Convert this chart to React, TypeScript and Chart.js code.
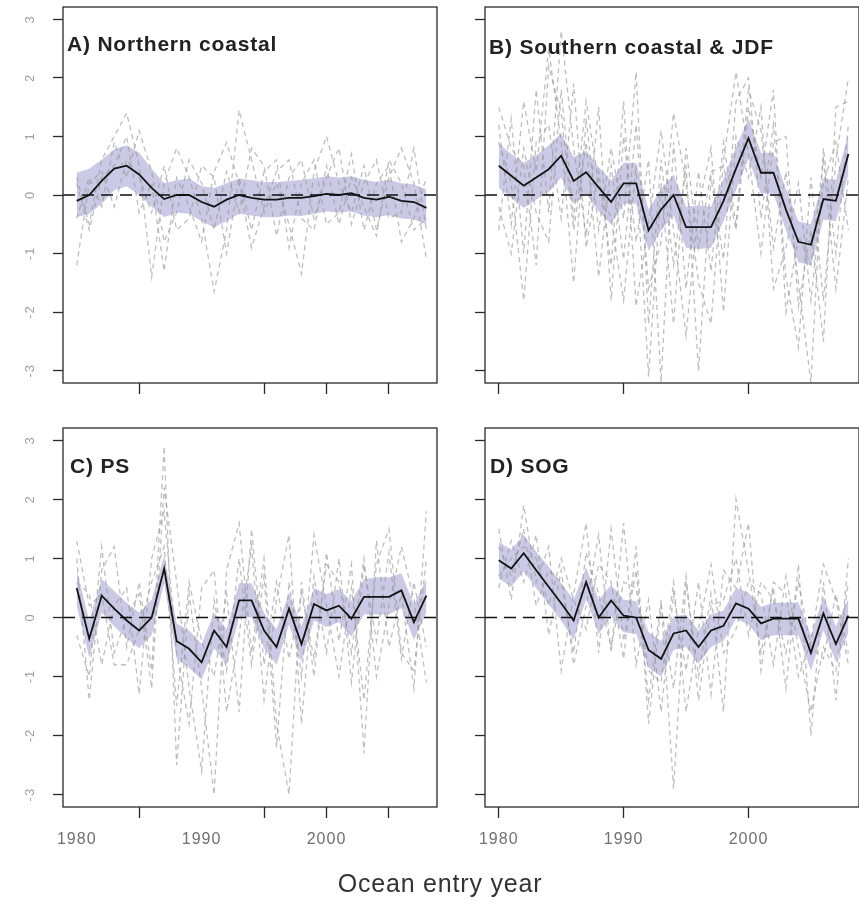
import React, { useEffect, useRef } from "react";
import { Chart, registerables } from "chart.js";

Chart.register(...registerables);

const YEARS = [1980, 1981, 1982, 1983, 1984, 1985, 1986, 1987, 1988, 1989, 1990, 1991, 1992, 1993, 1994, 1995, 1996, 1997, 1998, 1999, 2000, 2001, 2002, 2003, 2004, 2005, 2006, 2007, 2008];
const Y_TICKS = [-3, -2, -1, 0, 1, 2, 3];
const X_TICKS_AC = [1980, 1985, 1990, 1995, 2000, 2005];
const X_MARKS_AC = [1985, 1995, 2000, 2005];
const X_TICKS_BD = [1980, 1990, 2000];
const X_MARKS_BD = [1980, 1990, 2000];
const X_LABELS = [1980, 1990, 2000];
const X_MIN = 1978.9;
const X_MAX = 2008.85;
const Y_MIN = -3.21;
const Y_MAX = 3.21;

const TITLE_A = "A) Northern coastal";
const TITLE_B = "B) Southern coastal & JDF";
const TITLE_C = "C) PS";
const TITLE_D = "D) SOG";
const X_TITLE = "Ocean entry year";

// Panel A – Northern coastal
const A_MEAN = [-0.1, 0.0, 0.24, 0.45, 0.5, 0.35, 0.12, -0.07, 0.0, 0.0, -0.12, -0.2, -0.08, 0.0, -0.05, -0.08, -0.08, -0.05, -0.05, -0.02, 0.02, 0.0, 0.03, -0.05, -0.08, -0.03, -0.1, -0.12, -0.22];
const A_UPPER = [0.38, 0.45, 0.6, 0.78, 0.85, 0.72, 0.45, 0.2, 0.25, 0.28, 0.15, 0.12, 0.2, 0.28, 0.25, 0.22, 0.22, 0.24, 0.26, 0.28, 0.32, 0.3, 0.32, 0.26, 0.22, 0.26, 0.2, 0.18, 0.1];
const A_LOWER = [-0.38, -0.32, -0.15, 0.08, 0.15, 0.0, -0.2, -0.38, -0.3, -0.32, -0.45, -0.55, -0.45, -0.32, -0.35, -0.38, -0.38, -0.35, -0.36, -0.32, -0.28, -0.3, -0.28, -0.35, -0.38, -0.34, -0.4, -0.42, -0.5];
const A_G1 = [0.3, -0.5, 0.6, 1.0, 1.4, 0.5, -1.4, 0.2, 0.8, 0.3, -0.4, -1.65, -0.6, 1.45, 0.6, -0.3, 0.2, -0.5, -1.35, 0.4, 1.0, 0.2, -0.3, 0.5, -0.6, 0.3, 0.8, 0.2, -1.1];
const A_G2 = [-0.4, 0.3, -0.2, 0.9, 0.3, 1.1, 0.4, -0.8, -0.3, 0.6, 0.2, -0.6, 0.4, -0.3, 0.8, 0.5, -0.7, 0.3, 0.6, -0.4, 0.3, 0.8, -0.5, 0.2, 0.6, -0.4, -0.3, 0.8, -0.6];
const A_G3 = [-1.2, 0.2, 0.4, -0.2, 0.6, 0.3, -0.3, 0.5, -0.6, -0.4, 0.5, 0.3, -1.0, 0.3, -0.6, 0.4, 0.6, -0.9, 0.2, 0.6, -0.5, -0.3, 0.7, -0.6, 0.2, 0.5, -0.8, -0.4, 0.3];
const A_G4 = [0.2, -0.6, 0.3, 0.5, 1.0, -0.3, 0.2, -1.3, 0.3, -0.2, -0.8, 0.4, 0.9, 0.2, -0.9, -0.2, 0.4, 0.6, -0.4, -0.6, 0.5, -0.5, 0.3, -0.2, -0.7, 0.6, 0.2, -0.6, -0.4];

// Panel B – Southern coastal & JDF
const B_MEAN = [0.5, 0.33, 0.16, 0.3, 0.44, 0.67, 0.24, 0.39, 0.13, -0.12, 0.2, 0.2, -0.6, -0.25, 0.0, -0.55, -0.55, -0.55, -0.1, 0.45, 0.97, 0.38, 0.38, -0.25, -0.8, -0.85, -0.07, -0.1, 0.7];
const B_UPPER = [0.88, 0.7, 0.55, 0.68, 0.85, 1.05, 0.65, 0.75, 0.48, 0.25, 0.55, 0.55, -0.25, 0.1, 0.35, -0.2, -0.18, -0.2, 0.28, 0.82, 1.3, 0.72, 0.72, 0.1, -0.45, -0.5, 0.28, 0.25, 1.05];
const B_LOWER = [0.12, -0.05, -0.22, -0.08, 0.05, 0.3, -0.15, 0.02, -0.28, -0.5, -0.15, -0.15, -0.95, -0.6, -0.35, -0.9, -0.92, -0.9, -0.45, 0.08, 0.62, 0.02, 0.02, -0.6, -1.15, -1.2, -0.42, -0.45, 0.35];
const B_G1 = [1.2, -0.5, 1.6, 0.4, 2.5, 0.9, -1.5, 1.3, -0.6, 0.8, -0.4, 2.1, -2.2, 0.6, -1.2, 0.5, -3.0, 0.3, -1.1, 1.6, 2.0, -0.4, 1.2, -1.4, -2.6, 0.3, -1.8, 0.6, 2.0];
const B_G2 = [-0.6, 1.3, -1.0, 1.8, -0.3, 2.8, 0.8, -0.7, 1.5, -1.8, 1.0, -0.8, 0.6, -3.2, 0.9, -1.6, 0.4, -1.3, 0.9, -0.5, 1.8, 1.1, -0.9, 0.4, -1.5, -3.2, 0.8, -1.0, 1.2];
const B_G3 = [0.9, 0.2, -1.8, 0.9, 1.2, -0.4, 1.9, -0.9, 0.4, -1.2, 1.6, -1.9, -0.5, 1.1, -0.6, -2.4, -0.2, 0.8, -2.0, 1.0, 0.3, 1.5, -1.6, -0.9, 0.2, -1.8, 0.2, 0.9, -0.6];
const B_G4 = [1.5, 0.8, 0.5, -1.2, 2.2, 1.4, -0.6, 0.9, -1.4, 0.5, -1.1, 1.2, -1.6, -0.8, 1.4, 0.2, -1.5, -2.2, 0.6, 2.1, 0.7, -1.0, 0.9, 1.0, -1.9, -0.6, -2.5, 1.5, 1.6];
const B_G5 = [-0.2, -1.0, 0.8, -0.3, -0.8, 1.8, -0.4, 1.6, 0.2, -0.4, -1.8, 0.5, -3.1, 0.2, -2.2, 0.8, -0.9, 0.4, 0.5, -0.6, 1.5, 0.3, 1.8, -2.0, -0.7, -1.2, 0.6, -1.6, 0.3];

// Panel C – PS
const C_MEAN = [0.5, -0.36, 0.37, 0.15, -0.05, -0.22, 0.0, 0.83, -0.4, -0.53, -0.76, -0.22, -0.5, 0.29, 0.29, -0.22, -0.5, 0.15, -0.45, 0.23, 0.12, 0.2, -0.02, 0.35, 0.35, 0.35, 0.46, -0.08, 0.37];
const C_UPPER = [0.8, -0.05, 0.65, 0.45, 0.25, 0.08, 0.3, 1.05, -0.1, -0.22, -0.45, 0.08, -0.2, 0.58, 0.58, 0.08, -0.2, 0.42, -0.15, 0.5, 0.4, 0.48, 0.28, 0.65, 0.68, 0.68, 0.75, 0.22, 0.65];
const C_LOWER = [0.2, -0.68, 0.08, -0.15, -0.35, -0.52, -0.3, 0.58, -0.7, -0.85, -1.05, -0.52, -0.8, 0.0, 0.0, -0.52, -0.8, -0.12, -0.75, -0.05, -0.16, -0.08, -0.32, 0.05, 0.05, 0.05, 0.16, -0.38, 0.08];
const C_G1 = [1.0, -1.4, 0.8, 1.2, -0.5, 0.6, -0.9, 2.9, -2.5, 0.4, -1.2, -3.0, 0.8, 1.6, -0.6, 1.0, -1.8, -3.0, 0.6, -1.0, 1.1, -0.4, 0.9, -2.3, 1.3, -0.5, 0.4, -1.2, 1.8];
const C_G2 = [0.6, 0.4, -0.8, 0.2, 0.5, -1.3, 1.0, 1.8, -0.6, -1.8, 0.5, 0.8, -1.6, -0.3, 1.2, -1.4, 0.3, 1.4, -1.8, 0.7, -0.6, 1.0, -1.1, 0.9, -0.4, 1.1, -0.7, 0.6, -0.5];
const C_G3 = [-0.3, -1.0, 1.2, -0.6, 0.0, 0.4, -1.2, 2.2, 0.6, -1.2, -2.6, 0.3, -0.9, 1.0, -0.8, 0.7, -2.2, 0.6, -1.0, 1.4, 0.2, -1.0, 0.5, -1.4, 0.9, 1.5, -0.6, -0.9, 1.0];
const C_G4 = [1.3, 0.2, 0.4, -0.8, -0.8, -0.2, 0.6, 1.2, -1.5, 0.6, -0.4, -1.0, 0.4, -1.6, 1.5, -0.8, 0.6, -0.7, 0.4, -0.7, 0.9, 0.6, -0.6, 1.0, -1.0, 0.2, 1.2, 0.3, -1.1];

// Panel D – SOG
const D_MEAN = [0.97, 0.83, 1.09, 0.8, 0.52, 0.24, -0.05, 0.6, 0.0, 0.29, 0.03, 0.0, -0.55, -0.7, -0.27, -0.22, -0.5, -0.22, -0.14, 0.24, 0.15, -0.1, -0.02, -0.02, -0.02, -0.6, 0.07, -0.45, 0.03];
const D_UPPER = [1.28, 1.15, 1.4, 1.12, 0.86, 0.58, 0.3, 0.85, 0.3, 0.55, 0.3, 0.28, -0.25, -0.4, 0.02, 0.05, -0.22, 0.05, 0.12, 0.5, 0.42, 0.18, 0.25, 0.25, 0.26, -0.3, 0.35, -0.15, 0.32];
const D_LOWER = [0.66, 0.52, 0.78, 0.5, 0.22, -0.05, -0.38, 0.32, -0.28, 0.02, -0.25, -0.28, -0.85, -1.0, -0.55, -0.5, -0.78, -0.5, -0.4, -0.02, -0.12, -0.38, -0.3, -0.3, -0.3, -0.9, -0.22, -0.75, -0.26];
const D_G1 = [1.5, 0.3, 1.9, 0.6, 1.2, -0.9, 0.4, 1.6, -0.6, 1.5, -0.4, 0.8, -1.4, 0.3, -2.9, 0.6, -1.0, 0.4, -1.6, 2.0, 0.8, -0.6, 0.5, -1.2, 0.9, -2.0, 0.6, -1.4, 1.0];
const D_G2 = [0.5, 1.3, 0.6, 1.4, -0.3, 0.8, -0.8, 0.2, 1.4, -0.6, 1.6, -0.8, 0.3, -1.6, 0.4, -0.9, 0.6, -1.3, 0.8, 0.5, 1.6, -0.9, 0.6, 0.4, -1.0, -0.4, 0.9, 0.3, -0.8];
const D_G3 = [1.2, 0.7, 1.5, 0.2, 0.8, 0.6, -0.6, 1.1, 0.4, -0.5, 0.6, 0.5, -0.9, -1.1, 0.6, -1.6, -0.2, 0.9, -0.6, -0.2, 0.6, 0.4, -0.8, 0.7, -0.5, -1.6, -0.5, -0.9, 0.6];
const D_G4 = [0.7, 1.0, 1.2, 1.0, 0.2, 1.0, 0.3, -0.2, 0.9, 0.6, -0.7, 1.2, -1.8, 0.2, -1.2, 0.7, -1.4, 0.2, 0.3, 1.0, -0.3, 0.6, 0.3, -0.6, 0.6, -0.5, -0.7, 0.4, -0.6];

const FONT = '"Liberation Sans", Arial, sans-serif';
const FRAME_COLOR = "#2a2a2a";

type PanelProps = {
  left: number;
  top: number;
  width: number;
  height: number;
  padTop: number;
  padRight: number;
  yAxisW: number;
  xAxisH: number;
  mean: number[];
  lower: number[];
  upper: number[];
  grays: number[][];
  xTicks: number[];
  xMarks: number[];
  showX: boolean;
  showY: boolean;
};

const pts = (vals: number[]) => YEARS.map((x, i) => ({ x, y: vals[i] }));

const panelPlugin = {
  id: "panelDecor",
  beforeDraw(chart: any) {
    (chart.ctx as any).letterSpacing = "1px";
  },
  afterDatasetsDraw(chart: any) {
    const { ctx, chartArea: a, scales } = chart;
    const y0 = scales.y.getPixelForValue(0);
    ctx.save();
    ctx.strokeStyle = "#111";
    ctx.lineWidth = 1.6;
    ctx.setLineDash([12, 7]);
    ctx.beginPath();
    ctx.moveTo(a.left, y0);
    ctx.lineTo(a.right, y0);
    ctx.stroke();
    ctx.restore();
  },
  afterDraw(chart: any) {
    const { ctx, chartArea: a } = chart;
    ctx.save();
    ctx.strokeStyle = FRAME_COLOR;
    ctx.lineWidth = 1.3;
    ctx.setLineDash([]);
    ctx.strokeRect(a.left, a.top, a.right - a.left, a.bottom - a.top);
    ctx.restore();
    (ctx as any).letterSpacing = "0px";
  },
};

function Panel(p: PanelProps) {
  const ref = useRef<HTMLCanvasElement | null>(null);
  useEffect(() => {
    if (!ref.current) return;
    const grayDs = p.grays.map((g) => ({
      data: pts(g),
      borderColor: "rgba(150,150,150,0.62)",
      borderWidth: 1.3,
      borderDash: [5, 4],
      pointRadius: 0,
      fill: false,
      tension: 0,
    }));
    const datasets: any[] = [
      { data: pts(p.mean), borderColor: "#141414", borderWidth: 1.8, pointRadius: 0, fill: false, tension: 0 },
      ...grayDs,
      { data: pts(p.lower), borderColor: "transparent", borderWidth: 0, pointRadius: 0, fill: false },
      { data: pts(p.upper), borderColor: "transparent", borderWidth: 0, pointRadius: 0, fill: "-1", backgroundColor: "rgba(150,150,208,0.5)" },
    ];
    const chart = new Chart(ref.current, {
      type: "line",
      data: { datasets },
      plugins: [panelPlugin],
      options: {
        animation: false,
        responsive: false,
        devicePixelRatio: 1,
        events: [],
        layout: { padding: { left: 0, top: p.padTop, right: p.padRight, bottom: 0 } },
        plugins: { legend: { display: false }, tooltip: { enabled: false }, title: { display: false } },
        scales: {
          x: {
            type: "linear",
            min: X_MIN,
            max: X_MAX,
            afterBuildTicks: (s: any) => {
              s.ticks = p.xTicks.map((v) => ({ value: v }));
            },
            afterFit: (s: any) => {
              s.height = p.xAxisH;
              s.paddingLeft = 0;
              s.paddingRight = 0;
            },
            border: { display: false },
            grid: {
              display: true,
              drawOnChartArea: false,
              drawTicks: true,
              tickLength: 11,
              tickWidth: 1.3,
              tickColor: (c: any) => (c.tick && p.xMarks.includes(c.tick.value) ? FRAME_COLOR : "rgba(0,0,0,0)"),
            },
            ticks: {
              display: p.showX,
              autoSkip: false,
              maxRotation: 0,
              minRotation: 0,
              padding: 12,
              color: "#707070",
              font: { family: FONT, size: 16 },
              callback: (v: any) => (X_LABELS.includes(Number(v)) ? String(v) : ""),
            },
          },
          y: {
            type: "linear",
            min: Y_MIN,
            max: Y_MAX,
            afterBuildTicks: (s: any) => {
              s.ticks = Y_TICKS.map((v) => ({ value: v }));
            },
            afterFit: (s: any) => {
              s.width = p.yAxisW;
              s.paddingTop = 0;
              s.paddingBottom = 0;
            },
            border: { display: false },
            grid: {
              display: true,
              drawOnChartArea: false,
              drawTicks: true,
              tickLength: 10,
              tickWidth: 1.3,
              tickColor: FRAME_COLOR,
            },
            ticks: {
              display: p.showY,
              minRotation: 90,
              maxRotation: 90,
              crossAlign: "center",
              padding: 17,
              color: "#a0a0a0",
              font: { family: FONT, size: 13 },
              callback: (v: any) => String(v),
            },
          },
        },
      } as any,
    });
    return () => chart.destroy();
  }, []);
  return (
    <canvas
      ref={ref}
      width={p.width}
      height={p.height}
      style={{ position: "absolute", left: p.left, top: p.top, width: p.width, height: p.height }}
    />
  );
}

const titleStyle = (left: number, top: number): React.CSSProperties => ({
  position: "absolute",
  left,
  top,
  fontFamily: FONT,
  fontWeight: "bold",
  fontSize: 21,
  lineHeight: "22px",
  letterSpacing: "0.8px",
  color: "#222",
  whiteSpace: "nowrap",
});

export default function App() {
  useEffect(() => {
    document.body.style.margin = "0";
  }, []);
  return (
    <div style={{ position: "absolute", left: 0, top: 0, width: 859, height: 911, overflow: "hidden", background: "#fff" }}>
      <Panel left={0} top={0} width={440} height={425} padTop={7} padRight={3} yAxisW={63} xAxisH={42}
        mean={A_MEAN} lower={A_LOWER} upper={A_UPPER} grays={[A_G1, A_G2, A_G3, A_G4]}
        xTicks={X_TICKS_AC} xMarks={X_MARKS_AC} showX={false} showY={true} />
      <Panel left={420} top={0} width={439} height={425} padTop={7} padRight={0} yAxisW={65} xAxisH={42}
        mean={B_MEAN} lower={B_LOWER} upper={B_UPPER} grays={[B_G1, B_G2, B_G3, B_G4, B_G5]}
        xTicks={X_TICKS_BD} xMarks={X_MARKS_BD} showX={false} showY={false} />
      <Panel left={0} top={425} width={440} height={486} padTop={3} padRight={3} yAxisW={63} xAxisH={104}
        mean={C_MEAN} lower={C_LOWER} upper={C_UPPER} grays={[C_G1, C_G2, C_G3, C_G4]}
        xTicks={X_TICKS_AC} xMarks={X_MARKS_AC} showX={true} showY={true} />
      <Panel left={420} top={425} width={439} height={486} padTop={3} padRight={0} yAxisW={65} xAxisH={104}
        mean={D_MEAN} lower={D_LOWER} upper={D_UPPER} grays={[D_G1, D_G2, D_G3, D_G4]}
        xTicks={X_TICKS_BD} xMarks={X_MARKS_BD} showX={true} showY={false} />
      <div style={titleStyle(67, 33)}>{TITLE_A}</div>
      <div style={titleStyle(489, 36)}>{TITLE_B}</div>
      <div style={titleStyle(70, 455)}>{TITLE_C}</div>
      <div style={titleStyle(490, 455)}>{TITLE_D}</div>
      <div style={{ position: "absolute", left: 0, width: 880, top: 868, textAlign: "center", fontFamily: FONT, fontSize: 25, lineHeight: "30px", letterSpacing: "0.8px", color: "#333", whiteSpace: "nowrap" }}>
        {X_TITLE}
      </div>
    </div>
  );
}
